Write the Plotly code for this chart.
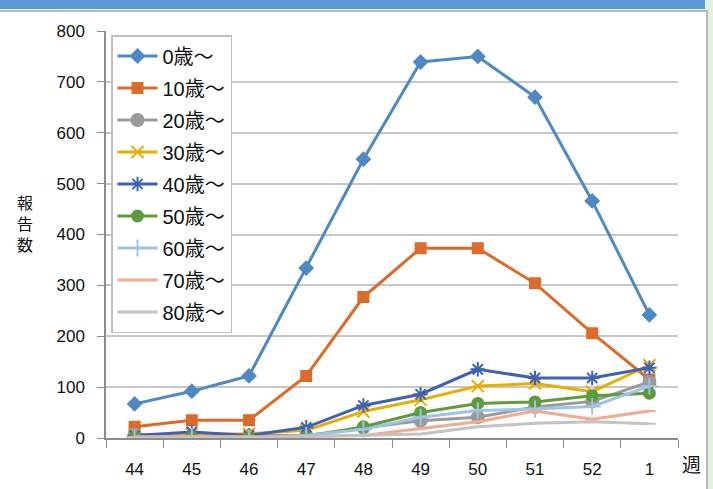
import plotly.graph_objects as go

weeks = ["44", "45", "46", "47", "48", "49", "50", "51", "52", "1"]
series_names = ["0歳～", "10歳～", "20歳～", "30歳～", "40歳～", "50歳～", "60歳～", "70歳～", "80歳～"]
v0 = [67, 92, 122, 334, 548, 739, 750, 670, 466, 242]
v10 = [22, 35, 35, 122, 277, 373, 373, 304, 206, 115]
v20 = [7, 5, 5, 5, 20, 34, 41, 61, 72, 110]
v30 = [5, 8, 8, 15, 52, 75, 102, 107, 91, 143]
v40 = [5, 12, 5, 21, 64, 86, 135, 118, 118, 138]
v50 = [0, 1, 0, 2, 22, 50, 68, 71, 83, 88]
v60 = [2, 3, 0, 5, 17, 41, 54, 57, 62, 102]
v70 = [2, 2, 2, 3, 5, 19, 32, 53, 37, 53]
v80 = [0, 0, 1, 3, 5, 8, 22, 29, 32, 28]
values = [v0, v10, v20, v30, v40, v50, v60, v70, v80]

colors = ["#4F89C4", "#DC6B2A", "#9A9A9A", "#E8AE00", "#3F62B3", "#5F9B3C", "#9EC3E8", "#F4AA8C", "#C3C3C3"]
symbols = ["diamond", "square", "circle", "x-thin-open", "asterisk-open", "circle",
           "cross-thin-open", "line-ew-open", "line-ew-open"]
msizes = [10, 10, 12, 12, 12, 11, 12, 9, 9]

FONT = "Liberation Sans, Noto Sans CJK JP"
fig = go.Figure()
for i, (name, vals) in enumerate(zip(series_names, values)):
    fig.add_trace(go.Scatter(
        x=weeks, y=vals, name=name, mode="lines+markers", legendgroup=name,
        line=dict(color=colors[i], width=3),
        marker=dict(symbol=symbols[i], size=msizes[i], color=colors[i],
                    line=dict(color=colors[i], width=2)),
    ))

W, H = 713, 489
L, R, T, B = 106, 35, 31, 51
pw, ph = W - L - R, H - T - B

def px(x):
    return (x - L) / pw

def py(y):
    return (H - B - y) / ph

shapes = [
    dict(type="rect", xref="paper", yref="paper", x0=px(-3), x1=px(707), y0=py(495), y1=py(11),
         fillcolor="white", line=dict(color="#A6A6A6", width=1.5), layer="below"),
    dict(type="rect", xref="paper", yref="paper", x0=px(-5), x1=px(705), y0=py(9), y1=py(-5),
         fillcolor="#5B9BD5", line=dict(width=0), layer="below"),
]

fig.update_layout(
    width=W, height=H,
    margin=dict(l=L, r=R, t=T, b=B, autoexpand=False),
    paper_bgcolor="#E4F1DB",
    plot_bgcolor="white",
    font=dict(family=FONT, size=16, color="#111111"),
    shapes=shapes,
    showlegend=True,
    legend=dict(x=px(111), y=py(35), xanchor="left", yanchor="top",
                bgcolor="white", bordercolor="#BFBFBF", borderwidth=1.5,
                font=dict(size=20, family=FONT), tracegroupgap=3, itemwidth=40,
                entrywidth=125, entrywidthmode="pixels"),
    xaxis=dict(type="category", showgrid=False, showline=True, linecolor="#8C8C8C", linewidth=1.5,
               ticks="outside", ticklen=8, tickcolor="#8C8C8C", tickson="boundaries",
               tickfont=dict(size=17), range=[-0.5, 9.5], ticklabelstandoff=15, automargin=False),
    yaxis=dict(range=[0, 800], dtick=100, showgrid=True, gridcolor="#C8C8C8", gridwidth=1.5,
               showline=True, linecolor="#8C8C8C", linewidth=1.5, ticks="outside", ticklen=7,
               tickcolor="#8C8C8C", tickfont=dict(size=17), zeroline=False, ticklabelstandoff=9,
               automargin=False),
    annotations=[
        dict(text="報<br>告<br>数", xref="paper", yref="paper", x=px(25), y=py(225),
             xanchor="center", yanchor="middle",
             showarrow=False, font=dict(size=16), align="center"),
        dict(text="週", xref="paper", yref="paper", x=px(691), y=py(465),
             xanchor="center", yanchor="middle",
             showarrow=False, font=dict(size=19)),
    ],
)

fig.write_html("out.html", post_script="document.body.style.margin='0';",
               config={"displayModeBar": False})
